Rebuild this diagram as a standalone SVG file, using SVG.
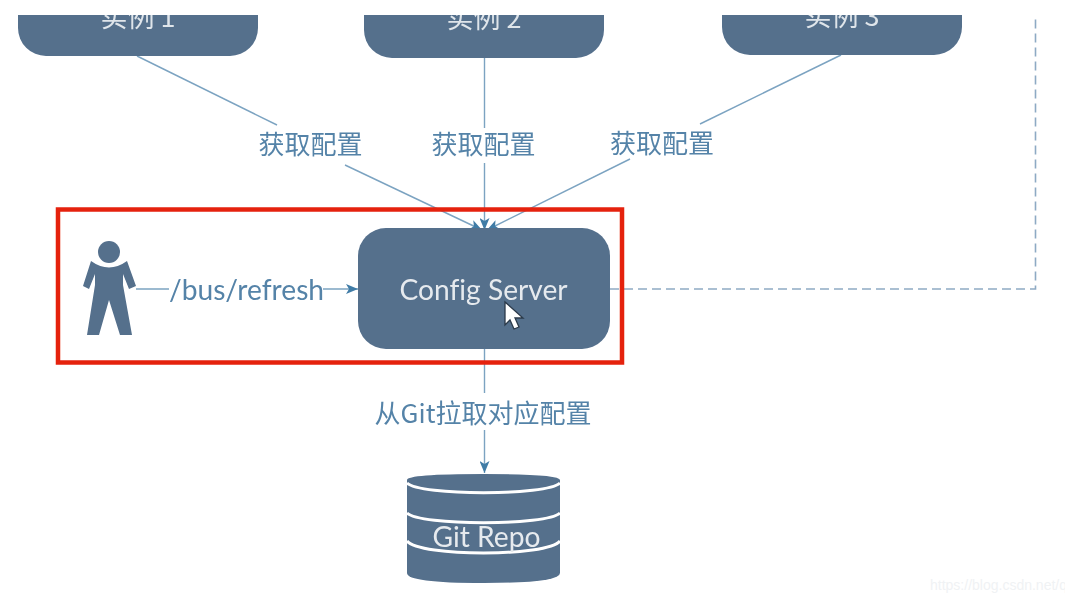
<svg xmlns="http://www.w3.org/2000/svg" width="1065" height="603" viewBox="0 0 1065 603">
<style>
.node{fill:#546f8c}
.ln{fill:none;stroke:#7ba3c1;stroke-width:1.4}
.dash{fill:none;stroke:#8eaac4;stroke-width:1.6;stroke-dasharray:9 5}
.lbl{font-family:"Noto Sans CJK SC","Lato",sans-serif;font-size:26px;fill:#5483a8;text-anchor:middle}
.lat{font-family:"Lato","Noto Sans CJK SC",sans-serif;font-size:28.200px;font-variant-ligatures:none}
.inst{fill:#dfe5ea;font-size:27px}
.wt{fill:#e6eaee}
.band{fill:none;stroke:#fff;stroke-width:3}
</style>
<defs>
<clipPath id="top"><rect x="0" y="15" width="1065" height="588"/></clipPath>
<filter id="soft" x="-2%" y="-2%" width="104%" height="104%"><feGaussianBlur stdDeviation="0.65"/></filter>
<marker id="ah" markerWidth="13" markerHeight="10" refX="12" refY="5" orient="auto" markerUnits="userSpaceOnUse"><path d="M0 0L12 5L0 10L3 5Z" fill="#3f7ba6"/></marker>
</defs>
<rect width="1065" height="603" fill="#fff"/>
<g filter="url(#soft)">
<g clip-path="url(#top)">
<g id="connectors">
<path class="ln" d="M137 56L277 125"/>
<path class="ln" d="M345 165L482 230" marker-end="url(#ah)"/>
<path class="ln" d="M484.500 58V128"/>
<path class="ln" d="M484.500 163V230" marker-end="url(#ah)"/>
<path class="ln" d="M841 55L700 124"/>
<path class="ln" d="M630 159L487 230" marker-end="url(#ah)"/>
<path class="ln" d="M136 289H169"/>
<path class="ln" d="M323 289H358" marker-end="url(#ah)"/>
<path class="ln" d="M484.500 349V393"/>
<path class="ln" d="M484.500 430V473" marker-end="url(#ah)"/>
<path class="dash" d="M610 289H1035.500V15"/>
</g>
<g id="instance1"><rect class="node" x="18" y="-20" width="240" height="76" rx="28"/><text class="lbl inst" x="138" y="27">实例 1</text></g>
<g id="instance2"><rect class="node" x="364" y="-20" width="240" height="78" rx="28"/><text class="lbl inst" x="484" y="28">实例 2</text></g>
<g id="instance3"><rect class="node" x="722" y="-20" width="240" height="75" rx="28"/><text class="lbl inst" x="842" y="26">实例 3</text></g>
</g>
<text class="lbl" x="310.500" y="154">获取配置</text>
<text class="lbl" x="483.500" y="154">获取配置</text>
<text class="lbl" x="662" y="153">获取配置</text>
<text class="lbl lat" x="246.500" y="300">/bus/refresh</text>
<text class="lbl" x="483" y="423">从Git拉取对应配置</text>
<g id="highlight"><rect x="58" y="209.500" width="564" height="153" fill="none" stroke="#e5220f" stroke-width="4.500"/></g>
<g id="config-server"><rect class="node" x="358" y="228" width="252" height="121" rx="28"/><text class="lbl lat wt" x="483.500" y="300">Config Server</text></g>
<g id="actor"><circle class="node" cx="109" cy="252" r="11"/><path class="node" d="M91 261Q109 274 127 261L136 286L129 289L123 274V285L132 335H120L109 300L99 335H87L95 285V274L89 289L83 286Z"/></g>
<g id="git-repo">
<path class="node" d="M407 480Q407 474 483.500 474Q560 474 560 480V573Q560 583 483.500 583Q407 583 407 573Z"/>
<path class="band" d="M407 483C420 496 547 496 560 483"/>
<path class="band" d="M407 513C420 526 547 526 560 513"/>
<path class="band" d="M407 541C420 557 547 557 560 541"/>
<text class="lbl lat wt" x="486.500" y="547">Git Repo</text>
</g>
<path d="M505 302V325L510 320L514 329L519 327L515 318L523 318Z" fill="#fff" stroke="#2c3a4a" stroke-width="1.300"/>
</g>
<text x="930" y="590" font-family="Liberation Sans,sans-serif" font-size="14" fill="#f0f2f4">https://blog.csdn.net/qq</text>
</svg>
